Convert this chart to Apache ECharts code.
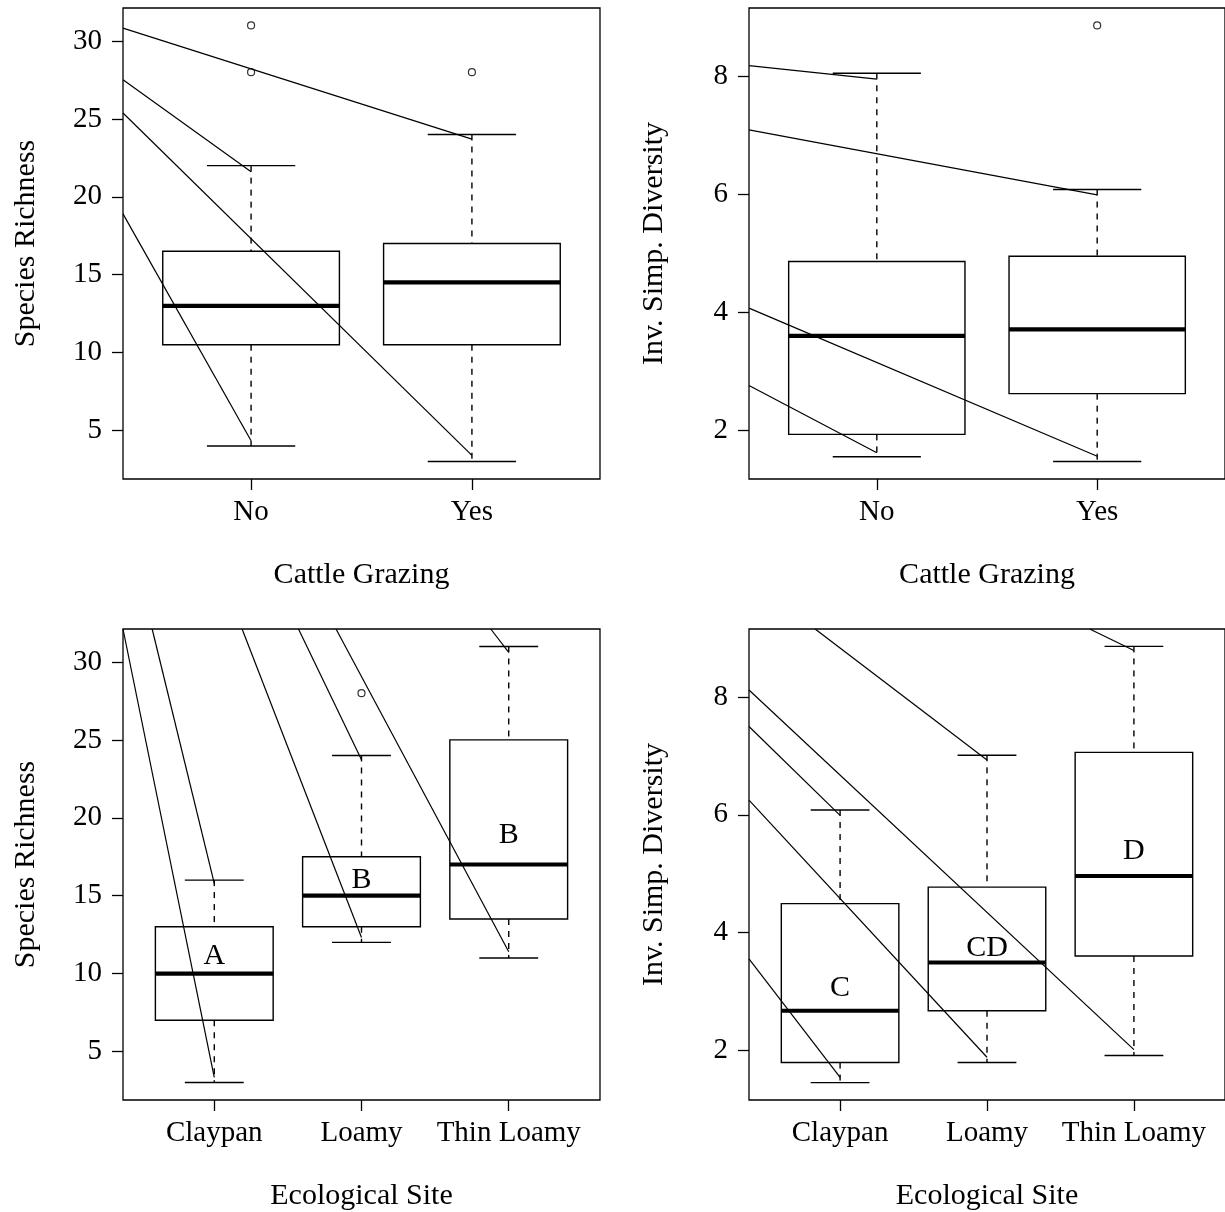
<!DOCTYPE html>
<html>
<head>
<meta charset="utf-8">
<title>Species richness and diversity boxplots</title>
<script src="https://cdn.jsdelivr.net/npm/echarts@6/dist/echarts.min.js"></script>
<style>
  html, body { margin: 0; padding: 0; background: #fff; }
  #chart { width: 1225px; height: 1212px; }
</style>
</head>
<body>
<div id="chart"></div>
<script>
const grazingCategories = ['No', 'Yes'];
const siteCategories = ['Claypan', 'Loamy', 'Thin Loamy'];

const richnessTicks = [5, 10, 15, 20, 25, 30];
const diversityTicks = [2, 4, 6, 8];

// y limits as drawn (data range padded by 4%)
const richnessLimits = [1.88, 32.12];
const diversityGrazingLimits = [1.174, 9.156];
const diversitySiteLimits = [1.154, 9.156];

// lower whisker, Q1, median, Q3, upper whisker
const richnessByGrazing = [
  [4, 10.5, 13, 16.5, 22],
  [3, 10.5, 14.5, 17, 24]
];
const diversityByGrazing = [
  [1.55, 1.93, 3.6, 4.86, 8.05],
  [1.47, 2.62, 3.71, 4.95, 6.08]
];
const richnessBySite = [
  [3, 7, 10, 13, 16],
  [12, 13, 15, 17.5, 24],
  [11, 13.5, 17, 25, 31]
];
const diversityBySite = [
  [1.45, 1.79, 2.67, 4.49, 6.08],
  [1.79, 2.67, 3.49, 4.77, 7.01],
  [1.91, 3.6, 4.96, 7.06, 8.86]
];

// outliers: [group, value]
const richnessGrazingOutliers = [[1, 31], [1, 28], [2, 28]];
const diversityGrazingOutliers = [[2, 8.86]];
const richnessSiteOutliers = [[2, 28]];
const diversitySiteOutliers = [];

// group letters: [group, y, label]
const richnessSiteLetters = [[1, 11.1, 'A'], [2, 16, 'B'], [3, 18.9, 'B']];
const diversitySiteLetters = [[1, 3.06, 'C'], [2, 3.73, 'CD'], [3, 5.38, 'D']];

// stray line segments: [x1, y1, x2, y2]
const richnessGrazingLines = [
  [0.42, 30.83, 2, 23.7],
  [0.42, 27.51, 1, 21.61],
  [0.42, 25.38, 2, 3.4],
  [0.42, 18.9, 1, 4.34]
];
const diversityGrazingLines = [
  [0.42, 8.18, 1, 7.95],
  [0.42, 7.09, 2, 5.99],
  [0.42, 4.07, 2, 1.56],
  [0.42, 2.76, 1, 1.62]
];
const richnessSiteLines = [
  [0.38, 32.12, 1, 3.33],
  [0.578, 32.12, 1, 15.79],
  [1.189, 32.12, 2, 12.31],
  [1.572, 32.12, 2, 23.72],
  [1.827, 32.12, 3, 11.4],
  [2.878, 32.12, 3, 30.62]
];
const diversitySiteLines = [
  [0.38, 3.55, 1, 1.54],
  [0.38, 6.25, 2, 1.88],
  [0.38, 7.5, 1, 5.99],
  [0.38, 8.12, 3, 2.01],
  [0.83, 9.156, 2, 6.93],
  [2.699, 9.156, 3, 8.79]
];

const fontFamily = '"Liberation Serif", "Times New Roman", serif';
const ink = '#000';

const panels = [
  { left: 123, top: 8, cats: grazingCategories, limits: richnessLimits, ticks: richnessTicks,
    xName: 'Cattle Grazing', yName: 'Species Richness', yGap: 82,
    boxes: richnessByGrazing, outliers: richnessGrazingOutliers, lines: richnessGrazingLines, letters: [] },
  { left: 749, top: 8, cats: grazingCategories, limits: diversityGrazingLimits, ticks: diversityTicks,
    xName: 'Cattle Grazing', yName: 'Inv. Simp. Diversity', yGap: 80,
    boxes: diversityByGrazing, outliers: diversityGrazingOutliers, lines: diversityGrazingLines, letters: [] },
  { left: 123, top: 629, cats: siteCategories, limits: richnessLimits, ticks: richnessTicks,
    xName: 'Ecological Site', yName: 'Species Richness', yGap: 82,
    boxes: richnessBySite, outliers: richnessSiteOutliers, lines: richnessSiteLines, letters: richnessSiteLetters },
  { left: 749, top: 629, cats: siteCategories, limits: diversitySiteLimits, ticks: diversityTicks,
    xName: 'Ecological Site', yName: 'Inv. Simp. Diversity', yGap: 80,
    boxes: diversityBySite, outliers: diversitySiteOutliers, lines: diversitySiteLines, letters: diversitySiteLetters }
];

function renderBox(params, api) {
  const x = api.value(0);
  const lo = api.coord([x, api.value(1)]);
  const q1 = api.coord([x, api.value(2)]);
  const med = api.coord([x, api.value(3)]);
  const q3 = api.coord([x, api.value(4)]);
  const hi = api.coord([x, api.value(5)]);
  const halfBox = api.size([0.4, 0])[0];
  const halfStaple = api.size([0.2, 0])[0];
  const cx = lo[0];
  const thin = { stroke: ink, lineWidth: 1.4 };
  const dashed = { stroke: ink, lineWidth: 1.4, lineDash: [6, 6] };
  return {
    type: 'group',
    children: [
      { type: 'line', shape: { x1: cx, y1: hi[1], x2: cx, y2: q3[1] }, style: dashed },
      { type: 'line', shape: { x1: cx, y1: q1[1], x2: cx, y2: lo[1] }, style: dashed },
      { type: 'line', shape: { x1: cx - halfStaple, y1: hi[1], x2: cx + halfStaple, y2: hi[1] }, style: thin },
      { type: 'line', shape: { x1: cx - halfStaple, y1: lo[1], x2: cx + halfStaple, y2: lo[1] }, style: thin },
      {
        type: 'rect',
        shape: { x: cx - halfBox, y: q3[1], width: 2 * halfBox, height: q1[1] - q3[1] },
        style: { stroke: ink, lineWidth: 1.4, fill: 'none' }
      },
      { type: 'line', shape: { x1: cx - halfBox, y1: med[1], x2: cx + halfBox, y2: med[1] }, style: { stroke: ink, lineWidth: 4.2 } }
    ]
  };
}

function letterRenderer(letters) {
  return function (params, api) {
    const item = letters[params.dataIndex];
    const pt = api.coord([item[0], item[1]]);
    return {
      type: 'text',
      x: pt[0],
      y: pt[1],
      style: {
        text: item[2],
        fill: ink,
        font: '30px ' + fontFamily,
        align: 'center',
        verticalAlign: 'middle'
      }
    };
  };
}

const grid = [];
const xAxis = [];
const yAxis = [];
const series = [];

panels.forEach((p, i) => {
  const n = p.cats.length;
  const pad = 0.04 * n;
  const positions = p.cats.map((c, k) => k + 1);

  grid.push({
    left: p.left, top: p.top, width: 477, height: 471,
    show: true, borderColor: ink, borderWidth: 1.3, backgroundColor: 'transparent'
  });

  xAxis.push({
    type: 'value', gridIndex: i,
    min: 0.5 - pad, max: n + 0.5 + pad,
    splitLine: { show: false },
    axisLine: { show: false },
    axisTick: { show: true, customValues: positions, length: 11, lineStyle: { color: ink, width: 1.3 } },
    axisLabel: {
      customValues: positions, margin: 19, color: ink, fontFamily, fontSize: 29,
      formatter: v => p.cats[Math.round(v) - 1] || ''
    },
    name: p.xName, nameLocation: 'middle', nameGap: 81,
    nameTextStyle: { color: ink, fontFamily, fontSize: 30 }
  });

  yAxis.push({
    type: 'value', gridIndex: i,
    min: p.limits[0], max: p.limits[1],
    splitLine: { show: false },
    axisLine: { show: false },
    axisTick: { show: true, customValues: p.ticks, length: 11, lineStyle: { color: ink, width: 1.3 } },
    axisLabel: { customValues: p.ticks, margin: 21, color: ink, fontFamily, fontSize: 29 },
    name: p.yName, nameLocation: 'middle', nameGap: p.yGap,
    nameTextStyle: { color: ink, fontFamily, fontSize: 30 }
  });

  series.push({
    type: 'custom', xAxisIndex: i, yAxisIndex: i,
    renderItem: renderBox,
    encode: { x: 0, y: [1, 2, 3, 4, 5] },
    data: p.boxes.map((b, k) => [k + 1, ...b]),
    silent: true, z: 2
  });

  series.push({
    type: 'lines', coordinateSystem: 'cartesian2d', xAxisIndex: i, yAxisIndex: i,
    data: p.lines.map(s => ({ coords: [[s[0], s[1]], [s[2], s[3]]] })),
    lineStyle: { color: ink, width: 1.2, opacity: 1 },
    silent: true, z: 3
  });

  if (p.outliers.length) {
    series.push({
      type: 'scatter', xAxisIndex: i, yAxisIndex: i,
      data: p.outliers,
      symbol: 'circle', symbolSize: 7,
      itemStyle: { color: 'rgba(0,0,0,0)', borderColor: ink, borderWidth: 1.2 },
      silent: true, z: 4
    });
  }

  if (p.letters.length) {
    series.push({
      type: 'custom', xAxisIndex: i, yAxisIndex: i,
      renderItem: letterRenderer(p.letters),
      encode: { x: 0, y: 1 },
      data: p.letters.map(l => [l[0], l[1]]),
      silent: true, z: 5
    });
  }
});

const chart = echarts.init(document.getElementById('chart'), null, { renderer: 'canvas' });
chart.setOption({
  backgroundColor: '#fff',
  animation: false,
  grid,
  xAxis,
  yAxis,
  series
});
</script>
</body>
</html>
